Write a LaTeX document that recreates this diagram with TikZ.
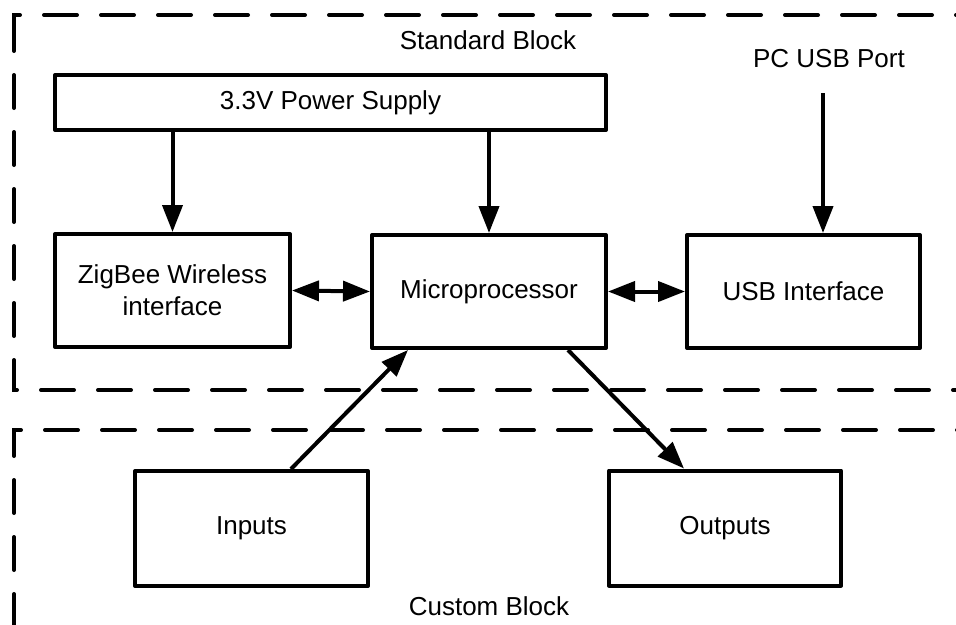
\documentclass[tikz,border=0pt]{standalone}
\usepackage{fontspec}
\setmainfont{Liberation Sans}
\usetikzlibrary{arrows.meta}
\begin{document}
\begin{tikzpicture}[x=1pt,y=-1pt,
  blk/.style={draw,line width=4pt,rectangle,inner sep=0pt,align=center,
    font=\fontsize{26}{32}\selectfont,line join=round},
  lbl/.style={inner sep=0pt,font=\fontsize{26}{32}\selectfont},
  arr/.style={line width=4pt,-{Triangle[length=27pt,width=20pt]}},
  darr/.style={line width=4pt,{Triangle[length=27pt,width=20pt]}-{Triangle[length=27pt,width=20pt]}},
  dashbox/.style={line width=4pt,line cap=round,dash pattern=on 33pt off 24pt}]
\useasboundingbox (0,0) rectangle (956,624);
% dashed regions
\draw[dashbox] (14,42) -- (14,15) -- (980,15);
\draw[dashbox,dash phase=24pt] (14,42) -- (14,390) -- (980,390);
\draw[dashbox,dash phase=10pt] (980,430) -- (14,430) -- (14,640);
% blocks
\node[blk,minimum width=551pt,minimum height=55pt] (power) at (330.5,102.5) {3.3V Power Supply};
\node[blk,minimum width=235pt,minimum height=113pt] (zig) at (172.5,290.5) {ZigBee Wireless\\interface};
\node[blk,minimum width=234pt,minimum height=113pt] (micro) at (489,291.5) {Microprocessor};
\node[blk,minimum width=233pt,minimum height=113pt] (usb) at (803.5,291.5) {USB Interface};
\node[blk,minimum width=233pt,minimum height=115pt] (inp) at (251.5,528.5) {Inputs};
\node[blk,minimum width=232pt,minimum height=115pt] (outp) at (725,528) {Outputs};
% labels
\node[lbl] (std) at (488,40) {Standard Block};
\node[lbl] (pcusb) at (829,59) {PC USB Port};
\node[lbl] (cust) at (489,606) {Custom Block};
\coordinate (pcu) at (823,93);
% connectors
\draw[arr] (power.south -| zig.north) -- (zig.north);
\draw[arr] (power.south -| micro.north) -- (micro.north);
\draw[arr] (pcu) -- (pcu |- usb.north);
\draw[darr] (zig.east) -- (micro.west);
\draw[darr] (micro.east) -- (usb.west);
\draw[arr] ([xshift=39.5pt]inp.north) -- ([xshift=-81pt]micro.south);
\draw[arr] ([xshift=79pt]micro.south) -- ([xshift=-41pt]outp.north);
\end{tikzpicture}
\end{document}
